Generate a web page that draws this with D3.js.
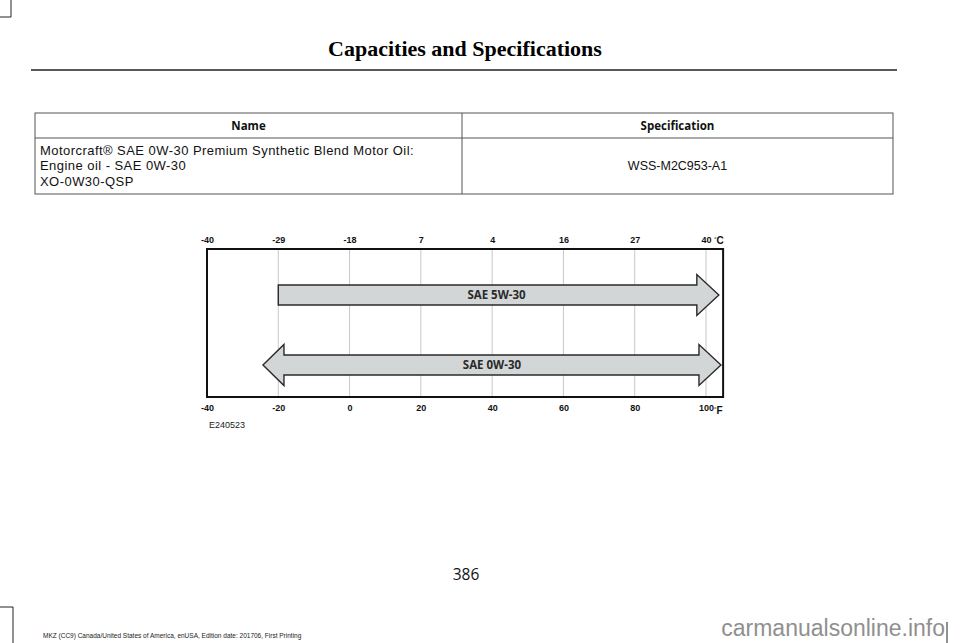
<!DOCTYPE html>
<html>
<head>
<meta charset="utf-8">
<script src="https://cdn.jsdelivr.net/npm/d3@7"></script>
<style>
  body { margin: 0; background: #fff; }
  svg { display: block; }
  .axis text { font-family: "Liberation Sans", Arial, sans-serif; font-weight: bold; font-size: 9px; fill: #111; }
  .axis .domain { display: none; }
</style>
</head>
<body>
<div id="page"></div>
<script>
// Table contents.
var tableHeaders = ["Name", "Specification"];
var nameLines = ["Motorcraft\u00ae SAE 0W-30 Premium Synthetic Blend Motor Oil:", "Engine oil - SAE 0W-30", "XO-0W30-QSP"];
var specValue = "WSS-M2C953-A1";

// Temperature chart: F positions with their printed C labels.
var fahrenheitTicks = [-40, -20, 0, 20, 40, 60, 80, 100];
var celsiusLabels = ["-40", "-29", "-18", "7", "4", "16", "27", "40"];
var oilNames = ["SAE 5W-30", "SAE 0W-30"];
var oilFrom = [-20, -24.3];
var oilTo = [103.6, 104.2];
var oilLeftHead = [false, true];

var svgWidth = 960, svgHeight = 643;

var svg = d3.select("#page").append("svg")
    .attr("width", svgWidth)
    .attr("height", svgHeight);

// Crop marks.
var marks = [[11, 0, 11, 17], [0, 17, 11, 17], [13, 607, 13, 643], [0, 607, 13, 607], [947, 622, 947, 643]];
svg.selectAll(".crop").data(marks).enter().append("line")
    .attr("x1", d => d[0]).attr("y1", d => d[1])
    .attr("x2", d => d[2]).attr("y2", d => d[3])
    .attr("stroke", "#222").attr("stroke-width", 1);

// Page header.
svg.append("text")
    .attr("x", 465).attr("y", 56)
    .attr("text-anchor", "middle")
    .style("font-family", "'Liberation Serif', serif")
    .style("font-weight", "bold")
    .style("font-size", "22px")
    .text("Capacities and Specifications");

svg.append("line")
    .attr("x1", 31).attr("x2", 897)
    .attr("y1", 70).attr("y2", 70)
    .attr("stroke", "#222").attr("stroke-width", 1.5);

// Table.
var table = { left: 35, right: 893, top: 113, mid: 138, bottom: 194, split: 462 };
var tg = svg.append("g").attr("class", "table");
tg.append("rect")
    .attr("x", table.left).attr("y", table.top)
    .attr("width", table.right - table.left).attr("height", table.bottom - table.top)
    .attr("fill", "none").attr("stroke", "#555").attr("stroke-width", 1);
tg.append("line")
    .attr("x1", table.left).attr("x2", table.right)
    .attr("y1", table.mid).attr("y2", table.mid)
    .attr("stroke", "#555");
tg.append("line")
    .attr("x1", table.split).attr("x2", table.split)
    .attr("y1", table.top).attr("y2", table.bottom)
    .attr("stroke", "#555");

var colCenters = [(table.left + table.split) / 2, (table.split + table.right) / 2];
tg.selectAll(".hdr").data(tableHeaders).enter().append("text")
    .attr("x", (d, i) => colCenters[i])
    .attr("y", 130)
    .attr("text-anchor", "middle")
    .style("font-family", "'Open Sans', sans-serif")
    .style("font-weight", "bold")
    .style("font-size", "11.5px")
    .style("fill", "#111")
    .text(d => d);

tg.selectAll(".nm").data(nameLines).enter().append("text")
    .attr("x", 40)
    .attr("y", (d, i) => 154.5 + i * 15.7)
    .style("font-family", "'Liberation Sans', Arial, sans-serif")
    .style("font-size", "13px")
    .style("letter-spacing", "0.45px")
    .style("fill", "#111")
    .text(d => d);

tg.append("text")
    .attr("x", colCenters[1]).attr("y", 170)
    .attr("text-anchor", "middle")
    .style("font-family", "'Liberation Sans', Arial, sans-serif")
    .style("font-size", "12.5px")
    .style("fill", "#111")
    .text(specValue);

// Temperature chart.
var x = d3.scaleLinear().domain([-40, 100]).range([207, 706]);
var boxMax = 104.8;
var boxTop = 249, boxBottom = 397;
var y = d3.scalePoint().domain(oilNames).range([295, 365]);

var chart = svg.append("g").attr("class", "chart");

chart.selectAll(".grid").data(fahrenheitTicks).enter().append("line")
    .attr("x1", d => x(d)).attr("x2", d => x(d))
    .attr("y1", boxTop).attr("y2", boxBottom)
    .attr("stroke", "#c8c8c8").attr("stroke-width", 1);

// Arrows.
var shaft = 10, head = 20.5, headLen = 22;
var oils = oilNames.map((n, i) => ({ name: n, from: oilFrom[i], to: oilTo[i], left: oilLeftHead[i] }));
function arrowPath(d) {
    var cy = y(d.name), x0 = x(d.from), x1 = x(d.to);
    var p = d3.path();
    p.moveTo(x1, cy);
    p.lineTo(x1 - headLen, cy - head);
    p.lineTo(x1 - headLen, cy - shaft);
    if (d.left) {
        p.lineTo(x0 + headLen - 1, cy - shaft);
        p.lineTo(x0 + headLen - 1, cy - head);
        p.lineTo(x0, cy);
        p.lineTo(x0 + headLen - 1, cy + head);
        p.lineTo(x0 + headLen - 1, cy + shaft);
    } else {
        p.lineTo(x0, cy - shaft);
        p.lineTo(x0, cy + shaft);
    }
    p.lineTo(x1 - headLen, cy + shaft);
    p.lineTo(x1 - headLen, cy + head);
    p.closePath();
    return p.toString();
}
chart.selectAll(".arrow").data(oils).enter().append("path")
    .attr("d", arrowPath)
    .attr("fill", "#d3d6d6")
    .attr("stroke", "#2a2a2a")
    .attr("stroke-width", 1.4)
    .attr("stroke-linejoin", "miter");

chart.selectAll(".oilLabel").data(oils).enter().append("text")
    .attr("x", d => (x(d.from) + x(d.to)) / 2 + (d.left ? 0 : -2))
    .attr("y", d => y(d.name) + 4)
    .attr("text-anchor", "middle")
    .style("font-family", "'Open Sans', sans-serif")
    .style("font-weight", "bold")
    .style("font-size", "11.5px")
    .style("fill", "#2a2a2a")
    .text(d => d.name);

// Frame.
chart.append("rect")
    .attr("x", x(-40)).attr("y", boxTop)
    .attr("width", x(boxMax) - x(-40)).attr("height", boxBottom - boxTop)
    .attr("fill", "none").attr("stroke", "#111").attr("stroke-width", 2);

// Axes: Celsius labels on top, Fahrenheit below.
var topAxis = d3.axisTop(x).tickValues(fahrenheitTicks).tickSize(0).tickPadding(0)
    .tickFormat((d, i) => celsiusLabels[i]);
chart.append("g").attr("class", "axis")
    .attr("transform", "translate(0,243)")
    .call(topAxis);

var bottomAxis = d3.axisBottom(x).tickValues(fahrenheitTicks).tickSize(0).tickPadding(0)
    .tickFormat(d => String(d));
chart.append("g").attr("class", "axis")
    .attr("transform", "translate(0,405)")
    .call(bottomAxis);
chart.selectAll(".axis .tick line").remove();

function unitLabel(yy, unit) {
    var t = chart.append("text")
        .attr("x", 714).attr("y", yy)
        .style("font-family", "'Liberation Sans', Arial, sans-serif")
        .style("font-weight", "bold")
        .style("fill", "#111");
    t.append("tspan").attr("dy", -3).style("font-size", "6px").text("\u00b0");
    t.append("tspan").attr("dy", 3).style("font-size", "10px").text(unit);
}
unitLabel(244, "C");
unitLabel(414, "F");

chart.append("text")
    .attr("x", 209).attr("y", 428)
    .style("font-family", "'Liberation Sans', Arial, sans-serif")
    .style("font-size", "9px")
    .style("fill", "#222")
    .text("E240523");

// Footer.
svg.append("text")
    .attr("x", 466).attr("y", 580)
    .attr("text-anchor", "middle")
    .style("font-family", "'Open Sans', sans-serif")
    .style("font-size", "15.5px")
    .style("fill", "#111")
    .text("386");

svg.append("text")
    .attr("x", 43).attr("y", 638)
    .style("font-family", "'Liberation Sans', Arial, sans-serif")
    .style("font-size", "6.5px")
    .style("fill", "#222")
    .text("MKZ (CC9) Canada/United States of America, enUSA, Edition date: 201706, First Printing");

svg.append("text")
    .attr("x", 945).attr("y", 636)
    .attr("text-anchor", "end")
    .style("font-family", "'Liberation Sans', Arial, sans-serif")
    .style("font-size", "23px")
    .style("fill", "#8f8f8f")
    .text("carmanualsonline.info");
</script>
</body>
</html>
